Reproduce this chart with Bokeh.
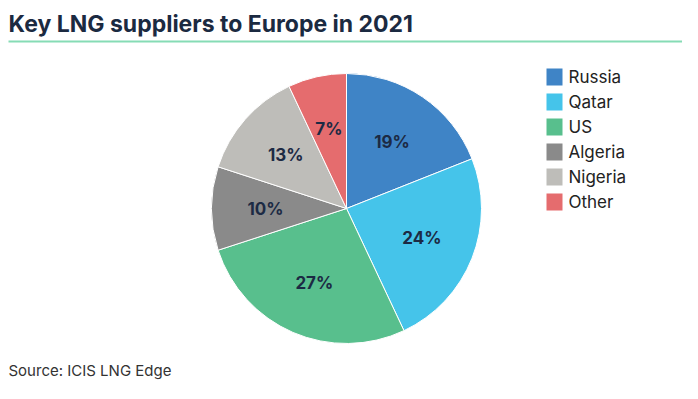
import math
from bokeh.plotting import figure
from bokeh.models import Range1d, ColumnDataSource
from bokeh.core.properties import value
from bokeh.embed import file_html
from bokeh.resources import INLINE

suppliers = ["Russia", "Qatar", "US", "Algeria", "Nigeria", "Other"]
shares = [19, 24, 27, 10, 13, 7]
colors = ["#3f84c6", "#45c4ea", "#58bf8d", "#8a8a8a", "#bebdb9", "#e56c6e"]
title_text = "Key LNG suppliers to Europe in 2021"
source_text = "Source: ICIS LNG Edge"

W, H = 682, 383
p = figure(width=W, height=H, output_backend="svg", toolbar_location=None,
           x_range=Range1d(0, W), y_range=Range1d(0, H),
           min_border=0, outline_line_color=None)
p.axis.visible = False
p.grid.visible = False
p.background_fill_color = "white"
p.border_fill_color = "white"

cx, cy, R = 346, 175, 135
total = sum(shares)
starts, ends, lx, ly, labels = [], [], [], [], []
cum = 0
for s in shares:
    a0 = math.pi / 2 - 2 * math.pi * cum / total
    a1 = math.pi / 2 - 2 * math.pi * (cum + s) / total
    starts.append(a0)
    ends.append(a1)
    mid = (a0 + a1) / 2
    lx.append(cx + 0.6 * R * math.cos(mid))
    ly.append(cy + 0.6 * R * math.sin(mid))
    labels.append(f"{s}%")
    cum += s

src = ColumnDataSource(dict(start=starts, end=ends, color=colors, name=suppliers,
                            lx=lx, ly=ly, label=labels))
p.wedge(x=cx, y=cy, radius=R, start_angle="start", end_angle="end",
        direction="clock", fill_color="color", line_color="white",
        line_width=1, source=src)
p.text(x="lx", y="ly", text="label", source=src, text_align="center",
       text_baseline="middle", text_font=value("Inter"), text_font_size="17px",
       text_font_style="bold", text_color="#1c2a44")

# legend
leg_y = [306.5 - 25 * i for i in range(len(suppliers))]
leg = ColumnDataSource(dict(y=leg_y, color=colors, name=suppliers))
p.rect(x=554, y="y", width=16, height=17, fill_color="color", line_color=None, source=leg)
p.text(x=568, y="y", text="name", source=leg, text_baseline="middle",
       text_font=value("Inter"), text_font_size="17px", text_color="#222222")

# title, rule, source
p.text(x=[8], y=[360], text=[title_text], text_baseline="middle",
       text_font=value("Inter"), text_font_size="23px", text_font_style="bold",
       text_color="#1b2a41")
p.segment(x0=[8], y0=[342], x1=[W], y1=[342], line_color="#86dcb5", line_width=2)
p.text(x=[8], y=[4], text=[source_text], text_baseline="bottom",
       text_font=value("Inter"), text_font_size="15px", text_color="#333333")

open("out.html", "w").write(file_html(p, INLINE))
